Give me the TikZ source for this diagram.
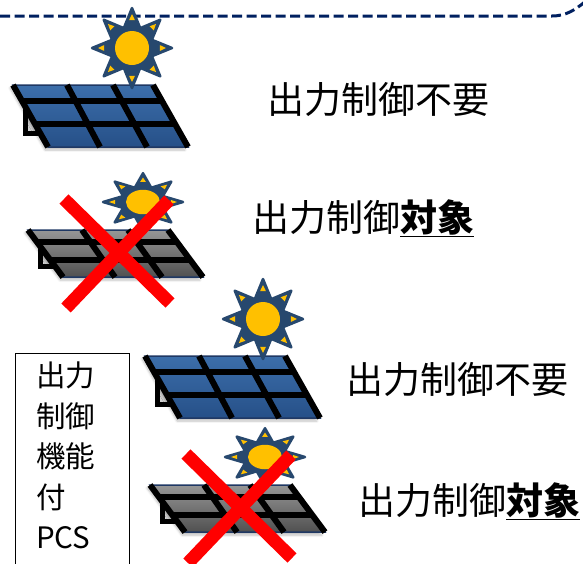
\documentclass[tikz,border=0pt]{standalone}
\usepackage{fontspec}
\setmainfont{Noto Sans CJK JP}
\usetikzlibrary{shadows.blur}

\definecolor{navydash}{RGB}{0,32,96}
\definecolor{sunblue}{RGB}{39,72,110}
\definecolor{sunyellow}{RGB}{255,192,0}
\definecolor{frameblue}{RGB}{31,56,100}
\definecolor{crossred}{RGB}{255,0,0}

\tikzset{
  dashline/.style={draw=navydash, line width=3pt, dash pattern=on 10pt off 4.5pt},
  gridline/.style={draw=black, line width=6pt},
  standline/.style={draw=black, line width=5pt, line join=miter},
  bluecells/.style={top color={rgb,255:red,60;green,110;blue,170}, bottom color={rgb,255:red,38;green,80;blue,136}},
  graycells/.style={top color={rgb,255:red,150;green,150;blue,150}, bottom color={rgb,255:red,80;green,80;blue,80}},
  panelbody/.style={draw=frameblue, line width=1.5pt,
    blur shadow={shadow xshift=-3pt, shadow yshift=-3pt, shadow opacity=25, shadow blur steps=6}},
  redcross/.style={draw=crossred, line width=13pt},
  label/.style={font=\fontsize{37}{40}\selectfont, inner sep=0pt, anchor=base},
  pcsbox/.style={draw=black, line width=1pt},
  % solar panel: top-left corner at the origin, y pointing down
  pics/pvpanel/.style={code={
    \fill[black!18] (12,22) -- (12,47) -- (27,47) -- cycle;
    \draw[standline] (12,24) -- (12,48) -- (30,48);
    \path[panelbody, #1] (0,0) -- (140,0) -- (175,62) -- (35,62) -- cycle;
    \draw[gridline] (0,0) -- (35,62) (54,0) -- (87,62) (100,0) -- (134,62) (140,0) -- (175,62);
    \draw[gridline] (9,16) -- (149,16) (22,39) -- (162,39);
  }},
  pics/pvpanel/.default=bluecells,
  % sun: eight-pointed star around a yellow disc
  pics/sun/.style={code={
    \filldraw[fill=sunblue, draw=sunblue, line width=2.5pt, line join=round]
      (0:40) \foreach \a in {45,90,...,315}{ -- (\a-22.5:21.5) -- (\a:40)} -- (-22.5:21.5) -- cycle;
    \foreach \a in {0,45,...,315}
      \fill[sunyellow] (\a:34) -- (\a+6:28) -- (\a-6:28) -- cycle;
    \fill[sunyellow] (0,0) circle (17);
  }}
}

\begin{document}
\begin{tikzpicture}[x=1pt, y=-1pt]
\useasboundingbox (0,0) rectangle (583,563);

% boundary line at the top
\draw[dashline] (0,16) -- (552,16) .. controls (566,16) and (575,10) .. (586,1);

% unit 1
\pic (p1) at (13,85) {pvpanel};
\pic (s1) at (132,48) {sun};
\node[label] (t1) at (378,113) {出力制御不要};

% unit 2 (output-controlled)
\pic[yscale=0.76] (p2) at (28,230) {pvpanel=graycells};
\pic[yscale=0.72] (s2) at (143,202) {sun};
\draw[redcross] (64,199) -- (170,303);
\draw[redcross] (169,200) -- (66,308);
\node[label] (t2) at (363,231) {出力制御\underline{\textbf{対象}}};

% PCS box
\draw[pcsbox] (15,565) -- (15,353) -- (129,353) -- (129,565);
\node[font=\fontsize{29.5}{40.5}\selectfont, align=left, inner sep=0pt, anchor=north west]
  (pcs) at (36,362) {出力\\制御\\機能\\付\\PCS};

% unit 3
\pic (p3) at (145,356) {pvpanel};
\pic (s3) at (263,319) {sun};
\node[label] (t3) at (457,393) {出力制御不要};

% unit 4 (output-controlled)
\pic[yscale=0.76] (p4) at (150,485) {pvpanel=graycells};
\pic[yscale=0.72] (s4) at (265,457) {sun};
\draw[redcross] (186,454) -- (292,558);
\draw[redcross] (291,455) -- (188,563);
\node[label] (t4) at (469,514) {出力制御\underline{\textbf{対象}}};
\end{tikzpicture}
\end{document}
